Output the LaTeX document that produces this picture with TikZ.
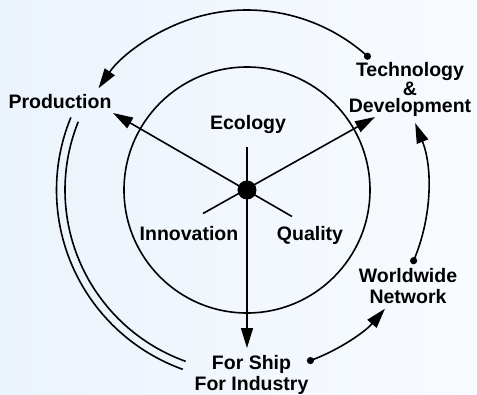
\documentclass[tikz,border=0pt]{standalone}
\usepackage{fontspec}
\setmainfont{Liberation Sans}
\usetikzlibrary{arrows.meta}
\definecolor{bgL}{RGB}{235,243,252}
\definecolor{bgR}{RGB}{248,251,255}
\begin{document}
\begin{tikzpicture}[x=1pt,y=1pt,
  line/.style={line width=1.6pt, draw=black},
  arr/.style={line, -{Triangle[length=20pt,width=12pt]}},
  lbl/.style={font=\fontsize{19.5}{17}\selectfont\bfseries, inner sep=0pt, align=center, text=black},
  lblw/.style={lbl, font=\fontsize{19.5}{21}\selectfont\bfseries},
]
\useasboundingbox (-247,-204) rectangle (230,190);
\shade[left color=bgL, right color=bgR] (-247,-204) rectangle (230,190);

% centre and radial lines
\coordinate (C) at (0,0);
\coordinate (pTip) at (-134,77);
\coordinate (pTail) at (45,-26.5);
\coordinate (tTip) at (128,73);
\coordinate (tTail) at (-44,-23.5);
\coordinate (vTop) at (0,43);
\coordinate (vTip) at (0,-158);

\draw[line] (C) circle (123);
\draw[arr] (pTail) -- (pTip);
\draw[arr] (tTail) -- (tTip);
\draw[arr] (vTop) -- (vTip);
\fill (C) circle (9.5);

% outer arcs
\coordinate (a1s) at (48:180);
\draw[arr] (a1s) arc[start angle=48, end angle=145.6, radius=180];
\fill (a1s) circle (3.6);

\coordinate (a2s) at (-23:181);
\draw[arr] (a2s) arc[start angle=-23, end angle=21.7, radius=181];
\fill (a2s) circle (3.6);

\coordinate (a3s) at (-69.6:182);
\draw[arr] (a3s) arc[start angle=-69.6, end angle=-40.7, radius=182];
\fill (a3s) circle (3.6);

\coordinate (d1s) at (158:182);
\coordinate (d2s) at (157.6:190.5);
\draw[line] (d1s) arc[start angle=158, end angle=250.3, radius=182];
\draw[line] (d2s) arc[start angle=157.6, end angle=250.3, radius=190.5];

% labels
\node[lbl, anchor=base] (prod) at (-187,82) {Production};
\node[lbl, anchor=base] (eco) at (1,61) {Ecology};
\node[lbl, anchor=base] (inn) at (-58,-50) {Innovation};
\node[lbl, anchor=base] (qual) at (63,-50) {Quality};
\node[lbl, anchor=north] (tech) at (163,127.5) {Technology\\\&\\Development};
\node[lblw, anchor=north] (ww) at (161,-78) {Worldwide\\Network};
\node[lblw, anchor=north] (ship) at (4.5,-165) {For Ship\\For Industry};
\end{tikzpicture}
\end{document}
